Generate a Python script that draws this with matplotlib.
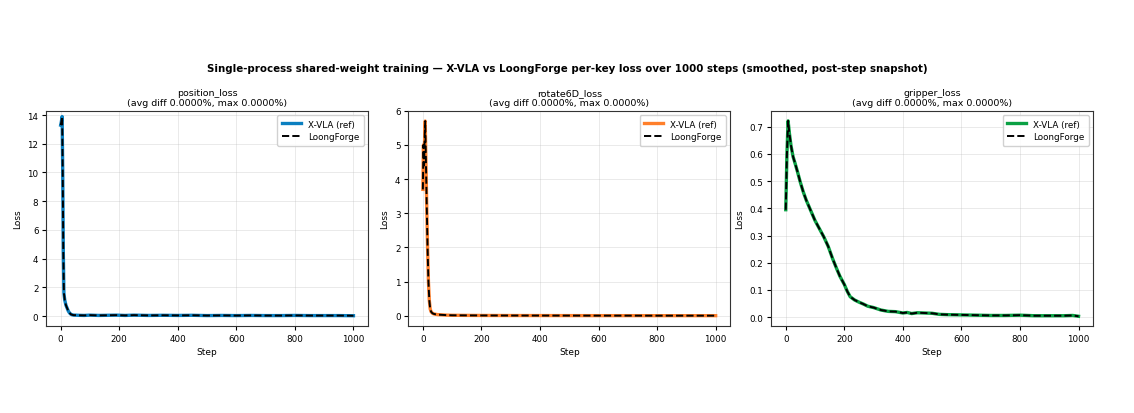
import matplotlib
matplotlib.use("Agg")
import matplotlib.pyplot as plt

# Loss curves (step, smoothed loss)
position_steps = [0, 2, 5, 7, 9, 11, 14, 18, 22, 26, 30, 35, 40, 45, 50, 60, 80, 100, 130, 160, 190,
                  220, 250, 300, 350, 400, 450, 500, 550, 600, 650, 700, 750, 800, 850, 900, 950, 1000]
position_loss = [13.3, 13.5, 13.9, 10.0, 4.5, 1.6, 1.1, 0.75, 0.55, 0.35, 0.22, 0.12, 0.08, 0.06, 0.06,
                 0.05, 0.04, 0.06, 0.04, 0.05, 0.06, 0.04, 0.06, 0.04, 0.05, 0.04, 0.05, 0.03, 0.04,
                 0.03, 0.04, 0.03, 0.03, 0.04, 0.03, 0.03, 0.03, 0.02]

rotate_steps = [0, 2, 4, 6, 8, 10, 13, 16, 19, 22, 25, 28, 32, 36, 40, 50, 60, 80, 100, 150, 200,
                300, 400, 500, 600, 700, 800, 900, 1000]
rotate_loss = [3.7, 5.0, 4.4, 5.2, 5.7, 4.7, 3.3, 2.0, 1.0, 0.45, 0.2, 0.12, 0.08, 0.06, 0.05, 0.035,
               0.03, 0.02, 0.015, 0.012, 0.01, 0.008, 0.007, 0.006, 0.005, 0.005, 0.004, 0.004, 0.004]

gripper_steps = [0, 4, 8, 12, 18, 25, 32, 40, 50, 60, 70, 80, 90, 100, 115, 130, 145, 160, 175, 185,
                 200, 210, 220, 235, 250, 265, 280, 300, 325, 350, 375, 400, 415, 430, 450, 475, 500,
                 525, 550, 600, 650, 700, 750, 800, 850, 900, 950, 980, 1000]
gripper_loss = [0.395, 0.6, 0.722, 0.68, 0.63, 0.59, 0.565, 0.535, 0.495, 0.46, 0.43, 0.405, 0.38,
                0.355, 0.325, 0.295, 0.26, 0.215, 0.175, 0.15, 0.12, 0.095, 0.075, 0.063, 0.055,
                0.048, 0.04, 0.035, 0.026, 0.021, 0.02, 0.015, 0.017, 0.013, 0.016, 0.015, 0.014,
                0.01, 0.009, 0.008, 0.007, 0.006, 0.006, 0.007, 0.005, 0.005, 0.005, 0.006, 0.003]

panels = [
    ("position_loss", position_steps, position_loss, "#0a7fc0", [0, 2, 4, 6, 8, 10, 12, 14]),
    ("rotate6D_loss", rotate_steps, rotate_loss, "#ff7f2a", [0, 1, 2, 3, 4, 5, 6]),
    ("gripper_loss", gripper_steps, gripper_loss, "#0aa043", [0.0, 0.1, 0.2, 0.3, 0.4, 0.5, 0.6, 0.7]),
]
avg_diff = 0.0
max_diff = 0.0

fig = plt.figure(figsize=(11.34, 4.14), dpi=100)
lefts = [0.0406, 0.360, 0.680]
for i, (name, steps, loss, color, yticks) in enumerate(panels):
    ax = fig.add_axes([lefts[i], 0.21, 0.284, 0.52])
    ax.plot(steps, loss, color=color, lw=2.4, label="X-VLA (ref)")
    ax.plot(steps, loss, color="black", lw=1.4, ls="--", label="LoongForge")
    ax.set_title(f"{name}\n(avg diff {avg_diff:.4f}%, max {max_diff:.4f}%)", fontsize=6.8, pad=4)
    ax.set_xlabel("Step", fontsize=6.5, labelpad=3)
    ax.set_ylabel("Loss", fontsize=6.5, labelpad=4)
    ax.set_xticks([0, 200, 400, 600, 800, 1000])
    ax.set_yticks(yticks)
    ax.tick_params(labelsize=6.3, length=3, pad=2.5)
    ax.set_xlim(-50, 1050)
    ax.grid(True, alpha=0.3, lw=0.6)
    ax.legend(fontsize=6.3, loc="upper right", framealpha=0.9, handlelength=2.2,
              borderpad=0.5, labelspacing=0.45)
    for s in ax.spines.values():
        s.set_linewidth(0.8)
        s.set_color("#333333")

fig.axes[0].set_ylim(-0.7, 14.3)
fig.axes[1].set_ylim(-0.3, 6.0)
fig.axes[2].set_ylim(-0.033, 0.759)

fig.suptitle("Single-process shared-weight training \u2014 X-VLA vs LoongForge per-key loss over 1000 steps "
             "(smoothed, post-step snapshot)", fontsize=7.4, fontweight="bold", y=0.845)
fig.savefig("out.png", dpi=100)
